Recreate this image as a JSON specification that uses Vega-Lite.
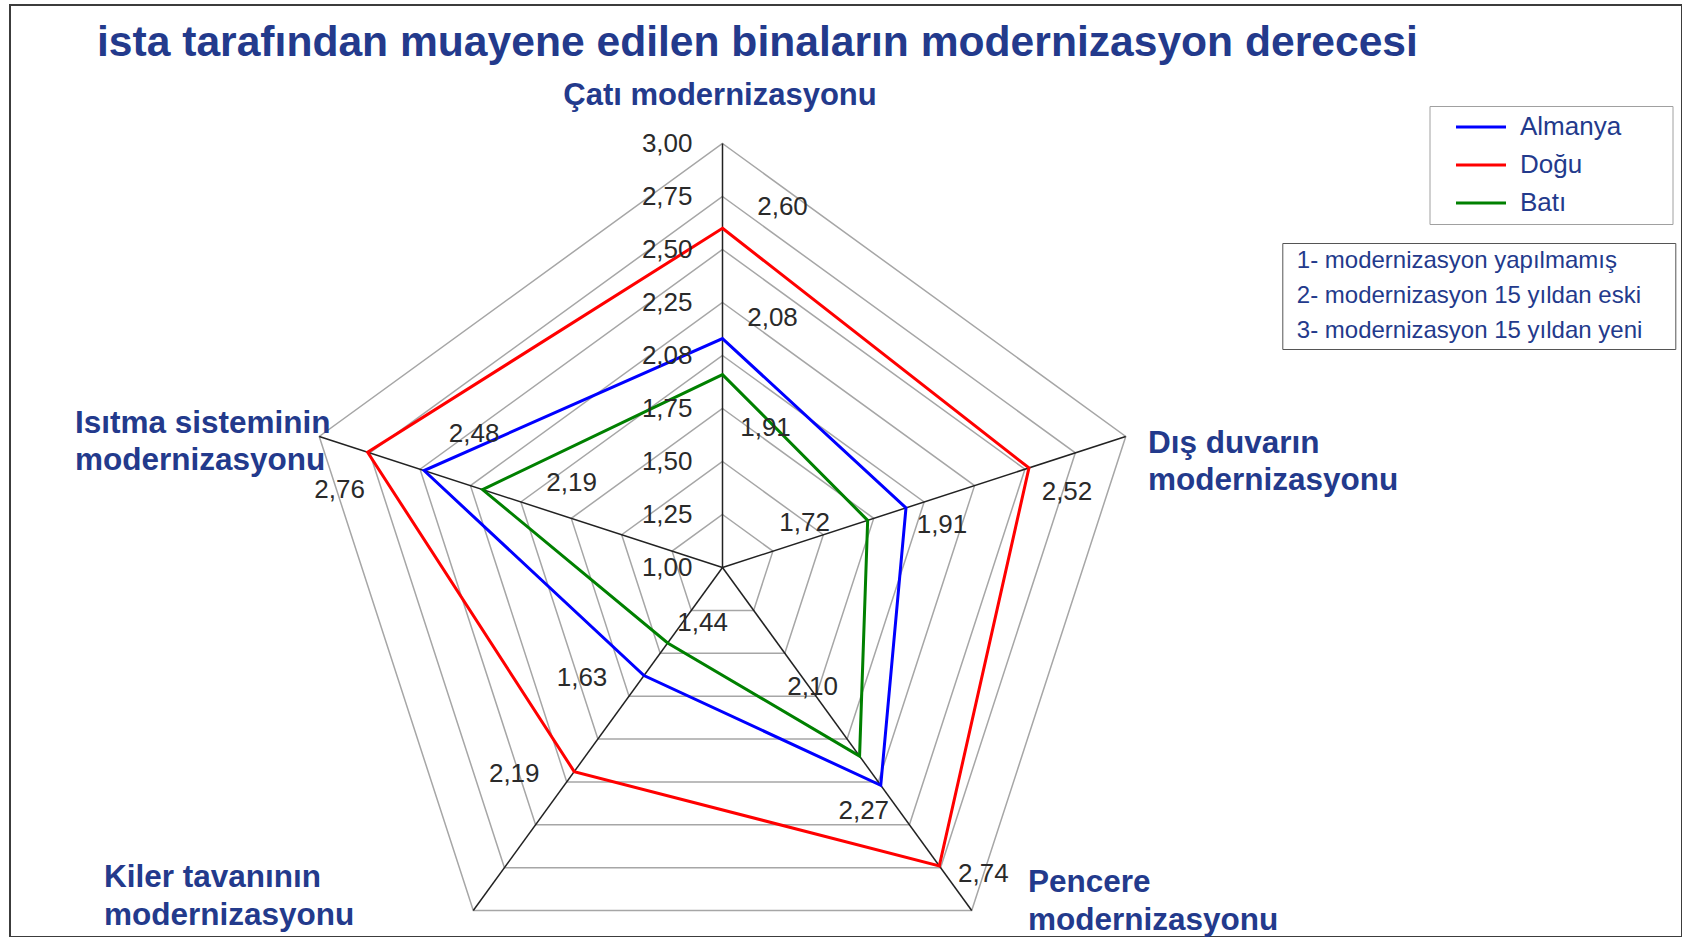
{
  "$schema": "https://vega.github.io/schema/vega-lite/v6.json",
  "width": 1682,
  "height": 937,
  "autosize": {"type": "fit", "contains": "padding"},
  "padding": {"left": 10, "top": 5, "right": 0, "bottom": 0},
  "background": "#ffffff",
  "config": {
    "view": {"stroke": "#3c3c3c", "strokeWidth": 2},
    "text": {"font": "Liberation Sans"}
  },
  "title": {
    "text": "ista tarafından muayene edilen binaların modernizasyon derecesi",
    "anchor": "start",
    "frame": "group",
    "orient": "none",
    "dx": 87,
    "dy": 51,
    "baseline": "alphabetic",
    "font": "Liberation Sans",
    "fontSize": 42.6,
    "fontWeight": "bold",
    "color": "#233a8c"
  },
  "datasets": {
    "scores": [
      {"axis": "Çatı modernizasyonu", "k": 0, "series": "Almanya", "value": 2.08},
      {"axis": "Çatı modernizasyonu", "k": 0, "series": "Doğu", "value": 2.60},
      {"axis": "Çatı modernizasyonu", "k": 0, "series": "Batı", "value": 1.91},
      {"axis": "Dış duvarın modernizasyonu", "k": 1, "series": "Almanya", "value": 1.91},
      {"axis": "Dış duvarın modernizasyonu", "k": 1, "series": "Doğu", "value": 2.52},
      {"axis": "Dış duvarın modernizasyonu", "k": 1, "series": "Batı", "value": 1.72},
      {"axis": "Pencere modernizasyonu", "k": 2, "series": "Almanya", "value": 2.27},
      {"axis": "Pencere modernizasyonu", "k": 2, "series": "Doğu", "value": 2.74},
      {"axis": "Pencere modernizasyonu", "k": 2, "series": "Batı", "value": 2.10},
      {"axis": "Kiler tavanının modernizasyonu", "k": 3, "series": "Almanya", "value": 1.63},
      {"axis": "Kiler tavanının modernizasyonu", "k": 3, "series": "Doğu", "value": 2.19},
      {"axis": "Kiler tavanının modernizasyonu", "k": 3, "series": "Batı", "value": 1.44},
      {"axis": "Isıtma sisteminin modernizasyonu", "k": 4, "series": "Almanya", "value": 2.48},
      {"axis": "Isıtma sisteminin modernizasyonu", "k": 4, "series": "Doğu", "value": 2.76},
      {"axis": "Isıtma sisteminin modernizasyonu", "k": 4, "series": "Batı", "value": 2.19}
    ],
    "axes": [
      {"k": 0, "name": "Çatı modernizasyonu"},
      {"k": 1, "name": "Dış duvarın\nmodernizasyonu"},
      {"k": 2, "name": "Pencere\nmodernizasyonu"},
      {"k": 3, "name": "Kiler tavanının\nmodernizasyonu"},
      {"k": 4, "name": "Isıtma sisteminin\nmodernizasyonu"}
    ],
    "ticks": [
      {"value": 1.00, "label": "1,00"},
      {"value": 1.25, "label": "1,25"},
      {"value": 1.50, "label": "1,50"},
      {"value": 1.75, "label": "1,75"},
      {"value": 2.00, "label": "2,08"},
      {"value": 2.25, "label": "2,25"},
      {"value": 2.50, "label": "2,50"},
      {"value": 2.75, "label": "2,75"},
      {"value": 3.00, "label": "3,00"}
    ],
    "rings": [
      {"level": 1.25, "k": [0, 1, 2, 3, 4]},
      {"level": 1.50, "k": [0, 1, 2, 3, 4]},
      {"level": 1.75, "k": [0, 1, 2, 3, 4]},
      {"level": 2.00, "k": [0, 1, 2, 3, 4]},
      {"level": 2.25, "k": [0, 1, 2, 3, 4]},
      {"level": 2.50, "k": [0, 1, 2, 3, 4]},
      {"level": 2.75, "k": [0, 1, 2, 3, 4]},
      {"level": 3.00, "k": [0, 1, 2, 3, 4]}
    ],
    "notes": [
      {"note": "1- modernizasyon yapılmamış"},
      {"note": "2- modernizasyon 15 yıldan eski"},
      {"note": "3- modernizasyon 15 yıldan yeni"}
    ]
  },
  "layer": [
    {
      "data": {"name": "rings"},
      "transform": [
        {"flatten": ["k"]},
        {"calculate": "(datum.level - 1) / 2", "as": "r"},
        {"calculate": "datum.r * sin(datum.k * 2 * PI / 5)", "as": "px"},
        {"calculate": "datum.r * cos(datum.k * 2 * PI / 5)", "as": "py"}
      ],
      "mark": {"type": "line", "interpolate": "linear-closed", "color": "#a6a6a6", "strokeWidth": 1.5},
      "encoding": {
        "x": {"field": "px", "type": "quantitative", "scale": {"domain": [-1.680425, 2.262972], "nice": false, "zero": false}, "axis": null},
        "y": {"field": "py", "type": "quantitative", "scale": {"domain": [-0.871462, 1.326651], "nice": false, "zero": false}, "axis": null},
        "detail": {"field": "level", "type": "nominal"},
        "order": {"field": "k", "type": "quantitative"}
      }
    },
    {
      "data": {"name": "axes"},
      "transform": [
        {"calculate": "0", "as": "z"},
        {"calculate": "sin(datum.k * 2 * PI / 5)", "as": "vx"},
        {"calculate": "cos(datum.k * 2 * PI / 5)", "as": "vy"}
      ],
      "mark": {"type": "rule", "color": "#222222", "strokeWidth": 1.5},
      "encoding": {
        "x": {"field": "z", "type": "quantitative", "scale": {"domain": [-1.680425, 2.262972], "nice": false, "zero": false}, "axis": null},
        "y": {"field": "z", "type": "quantitative", "scale": {"domain": [-0.871462, 1.326651], "nice": false, "zero": false}, "axis": null},
        "x2": {"field": "vx"},
        "y2": {"field": "vy"}
      }
    },
    {
      "data": {"name": "scores"},
      "transform": [
        {"calculate": "(datum.value - 1) / 2", "as": "r"},
        {"calculate": "datum.r * sin(datum.k * 2 * PI / 5)", "as": "px"},
        {"calculate": "datum.r * cos(datum.k * 2 * PI / 5)", "as": "py"}
      ],
      "mark": {"type": "line", "interpolate": "linear-closed", "strokeWidth": 3},
      "encoding": {
        "x": {"field": "px", "type": "quantitative", "scale": {"domain": [-1.680425, 2.262972], "nice": false, "zero": false}, "axis": null},
        "y": {"field": "py", "type": "quantitative", "scale": {"domain": [-0.871462, 1.326651], "nice": false, "zero": false}, "axis": null},
        "color": {
          "field": "series",
          "type": "nominal",
          "scale": {"domain": ["Almanya", "Doğu", "Batı"], "range": ["#0000ff", "#ff0000", "#008000"]},
          "legend": {
            "title": null,
            "orient": "none",
            "legendX": 1419.5,
            "legendY": 101,
            "strokeColor": "#a0a0a0",
            "padding": 8,
            "symbolType": "M-2.5,0H2.5",
            "symbolSize": 400,
            "symbolStrokeWidth": 3,
            "symbolOffset": 30.5,
            "labelOffset": 26,
            "labelFont": "Liberation Sans",
            "labelFontSize": 26,
            "labelColor": "#233a8c",
            "labelLimit": 600,
            "rowPadding": 12,
            "labelExpr": "datum.label + '      \u200b'"
          }
        },
        "order": {"field": "k", "type": "quantitative"}
      }
    },
    {
      "data": {"name": "ticks"},
      "transform": [
        {"calculate": "0", "as": "z"},
        {"calculate": "(datum.value - 1) / 2", "as": "py"}
      ],
      "mark": {"type": "text", "align": "right", "baseline": "middle", "dx": -30, "fontSize": 26, "color": "#2a2a2a", "font": "Liberation Sans"},
      "encoding": {
        "x": {"field": "z", "type": "quantitative", "scale": {"domain": [-1.680425, 2.262972], "nice": false, "zero": false}, "axis": null},
        "y": {"field": "py", "type": "quantitative", "scale": {"domain": [-0.871462, 1.326651], "nice": false, "zero": false}, "axis": null},
        "text": {"field": "label", "type": "nominal"}
      }
    },
    {
      "data": {"name": "scores"},
      "transform": [
        {"calculate": "(datum.value - 1) / 2", "as": "r"},
        {"calculate": "indexof(['Almanya', 'Doğu', 'Batı'], datum.series)", "as": "si"},
        {"calculate": "[[50, 36, -17, -62, 50], [60, 38, 44, -60, -28], [43, -63, -47, 35, 89]][datum.si][datum.k]", "as": "ox"},
        {"calculate": "[[-21, 17, 26, 2, -37], [-21, 24, 8, 2, 38], [53, 3, -69, -20, -7]][datum.si][datum.k]", "as": "oy"},
        {"calculate": "datum.r * sin(datum.k * 2 * PI / 5) + datum.ox / 424", "as": "lx"},
        {"calculate": "datum.r * cos(datum.k * 2 * PI / 5) - datum.oy / 424", "as": "ly"},
        {"calculate": "replace(format(datum.value, '.2f'), '.', ',')", "as": "txt"}
      ],
      "mark": {"type": "text", "align": "center", "baseline": "middle", "fontSize": 26, "color": "#2a2a2a", "font": "Liberation Sans"},
      "encoding": {
        "x": {"field": "lx", "type": "quantitative", "scale": {"domain": [-1.680425, 2.262972], "nice": false, "zero": false}, "axis": null},
        "y": {"field": "ly", "type": "quantitative", "scale": {"domain": [-0.871462, 1.326651], "nice": false, "zero": false}, "axis": null},
        "text": {"field": "txt", "type": "nominal"}
      }
    },
    {
      "data": {"name": "axes"},
      "transform": [
        {"filter": "datum.k == 0"},
        {"calculate": "sin(datum.k * 2 * PI / 5) - 2.5 / 424", "as": "lx"},
        {"calculate": "cos(datum.k * 2 * PI / 5) + 38.5 / 424", "as": "ly"}
      ],
      "mark": {"type": "text", "align": "center", "baseline": "alphabetic", "fontSize": 31, "fontWeight": "bold", "color": "#233a8c", "font": "Liberation Sans"},
      "encoding": {
        "x": {"field": "lx", "type": "quantitative", "scale": {"domain": [-1.680425, 2.262972], "nice": false, "zero": false}, "axis": null},
        "y": {"field": "ly", "type": "quantitative", "scale": {"domain": [-0.871462, 1.326651], "nice": false, "zero": false}, "axis": null},
        "text": {"field": "name", "type": "nominal"}
      }
    },
    {
      "data": {"name": "axes"},
      "transform": [
        {"filter": "datum.k != 0"},
        {"calculate": "sin(datum.k * 2 * PI / 5) + [0, 22.3, 56.3, -369.3, -244.3][datum.k] / 424", "as": "lx"},
        {"calculate": "cos(datum.k * 2 * PI / 5) - [0, 16.5, -18.5, -23.5, -3.5][datum.k] / 424", "as": "ly"}
      ],
      "mark": {"type": "text", "align": "left", "baseline": "alphabetic", "lineBreak": "\n", "lineHeight": 37.5, "fontSize": 31.5, "fontWeight": "bold", "color": "#233a8c", "font": "Liberation Sans"},
      "encoding": {
        "x": {"field": "lx", "type": "quantitative", "scale": {"domain": [-1.680425, 2.262972], "nice": false, "zero": false}, "axis": null},
        "y": {"field": "ly", "type": "quantitative", "scale": {"domain": [-0.871462, 1.326651], "nice": false, "zero": false}, "axis": null},
        "text": {"field": "name", "type": "nominal"}
      }
    },
    {
      "data": {"name": "notes"},
      "transform": [
        {"calculate": "0", "as": "z"}
      ],
      "mark": {"type": "point", "opacity": 0},
      "encoding": {
        "x": {"field": "z", "type": "quantitative", "scale": {"domain": [-1.680425, 2.262972], "nice": false, "zero": false}, "axis": null},
        "y": {"field": "z", "type": "quantitative", "scale": {"domain": [-0.871462, 1.326651], "nice": false, "zero": false}, "axis": null},
        "shape": {
          "field": "note",
          "type": "nominal",
          "legend": {
            "title": null,
            "orient": "none",
            "legendX": 1272.3,
            "legendY": 238,
            "strokeColor": "#555555",
            "padding": 6,
            "symbolSize": 0,
            "symbolOpacity": 0,
            "labelOffset": -15.5,
            "labelFont": "Liberation Sans",
            "labelFontSize": 24,
            "labelColor": "#233a8c",
            "labelLimit": 800,
            "rowPadding": 11,
            "labelExpr": "datum.label + '    \u200b'"
          }
        }
      }
    }
  ]
}
